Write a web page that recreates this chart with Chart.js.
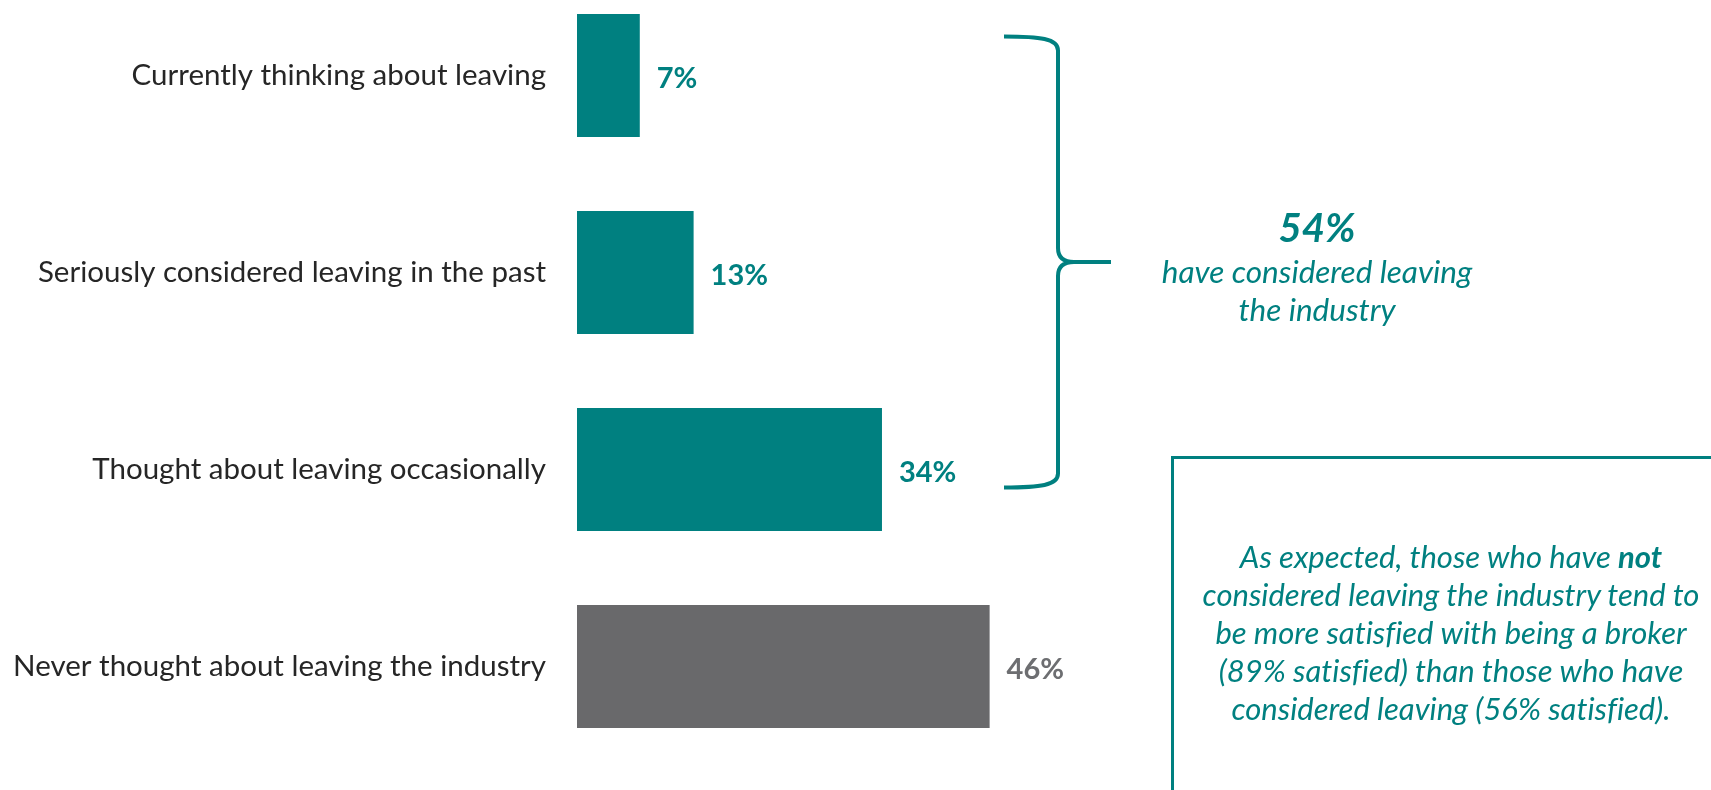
<!DOCTYPE html>
<html>
<head>
<meta charset="utf-8">
<script src="https://cdn.jsdelivr.net/npm/chart.js@4"></script>
<style>
    html, body {
        margin: 0;
        padding: 0;
        background: #ffffff;
        overflow: hidden;
        width: 1711px;
        height: 790px;
    }
    #wrap {
        position: absolute;
        left: 0;
        top: -23px;
        width: 1711px;
        height: 813px;
    }
    .note {
        position: absolute;
        color: #008080;
        font-family: Lato, "Noto Sans", sans-serif;
        font-style: italic;
        text-align: center;
        font-variant-ligatures: none;
    }
    #total {
        left: 1117px;
        top: 203px;
        width: 400px;
        font-size: 40px;
        line-height: 48px;
        font-weight: bold;
    }
    #totalText {
        left: 1067px;
        top: 252px;
        width: 500px;
        font-size: 31.5px;
        line-height: 38px;
    }
    #box {
        position: absolute;
        left: 1171px;
        top: 456px;
        width: 600px;
        height: 400px;
        border: 3px solid #008080;
        box-sizing: border-box;
    }
    #boxText {
        left: 1171px;
        top: 537px;
        width: 560px;
        font-size: 31px;
        line-height: 38px;
    }
</style>
</head>
<body>
<div id="wrap"><canvas id="leavingBarChart"></canvas></div>

<div class="note" id="total">54%</div>
<div class="note" id="totalText">have considered leaving<br>the industry</div>
<div id="box"></div>
<div class="note" id="boxText">
    As expected, those who have <b>not</b><br>
    considered leaving the industry tend to<br>
    be more satisfied with being a broker<br>
    (89% satisfied) than those who have<br>
    considered leaving (56% satisfied).
</div>

<script>
const categories = [
    "Currently thinking about leaving",
    "Seriously considered leaving in the past",
    "Thought about leaving occasionally",
    "Never thought about leaving the industry",
];
const shares = [7, 13, 34, 46];
const barColors = ["#008080", "#008080", "#008080", "#69696b"];
const labelColors = ["#008080", "#008080", "#008080", "#6d6e71"];

// value printed just past the end of each bar
const valueLabels = {
    id: "valueLabels",
    afterDatasetsDraw(chart) {
        const ctx = chart.ctx;
        const meta = chart.getDatasetMeta(0);
        ctx.save();
        ctx.font = "bold 29px Lato, 'Noto Sans', sans-serif";
        ctx.textAlign = "left";
        ctx.textBaseline = "middle";
        meta.data.forEach((bar, i) => {
            ctx.fillStyle = labelColors[i];
            ctx.fillText(shares[i] + "%", bar.x + 17, bar.y + 3);
        });
        ctx.restore();
    },
};

// curly brace grouping the three "considered leaving" bars
const brace = {
    id: "brace",
    afterDraw(chart) {
        const ctx = chart.ctx;
        const y = chart.scales.y;
        const top = y.getPixelForValue(0) - 39;
        const bottom = y.getPixelForValue(2) + 18;
        const mid = (top + bottom) / 2;
        const x0 = 1004, xv = 1058, xt = 1111;

        ctx.save();
        ctx.strokeStyle = "#008080";
        ctx.lineWidth = 4;
        ctx.lineCap = "butt";
        ctx.beginPath();
        ctx.moveTo(x0, top);
        ctx.bezierCurveTo(1040, top, xv, top + 2, xv, top + 14);
        ctx.lineTo(xv, mid - 14);
        ctx.quadraticCurveTo(xv, mid, xv + 16, mid);
        ctx.lineTo(xt, mid);
        ctx.moveTo(xv + 16, mid);
        ctx.quadraticCurveTo(xv, mid, xv, mid + 14);
        ctx.lineTo(xv, bottom - 14);
        ctx.bezierCurveTo(xv, bottom - 2, 1040, bottom, x0, bottom);
        ctx.stroke();
        ctx.restore();
    },
};

document.addEventListener("DOMContentLoaded", function () {
    const ctx = document.getElementById("leavingBarChart").getContext("2d");

    new Chart(ctx, {
        type: "bar",
        data: {
            labels: categories,
            datasets: [
                {
                    data: shares,
                    backgroundColor: barColors,
                    categoryPercentage: 1,
                    barPercentage: 0.624,
                },
            ],
        },
        options: {
            indexAxis: "y",
            responsive: true,
            maintainAspectRatio: false,
            animation: false,
            layout: {
                padding: { top: 0, right: 237, bottom: 25, left: 0 },
            },
            plugins: {
                legend: { display: false },
                tooltip: { enabled: false },
            },
            scales: {
                x: {
                    display: false,
                    min: 0,
                    max: 100,
                },
                y: {
                    grid: { display: false, drawTicks: false },
                    border: { display: false },
                    afterFit: (scale) => {
                        // fixed label column, and no extra room above/below the bars
                        scale.width = 577;
                        scale.paddingTop = 0;
                        scale.paddingBottom = 0;
                    },
                    ticks: {
                        padding: 31,
                        color: "#262626",
                        font: { family: "Lato", size: 29.5 },
                    },
                },
            },
        },
        plugins: [valueLabels, brace],
    });
});
</script>
</body>
</html>
